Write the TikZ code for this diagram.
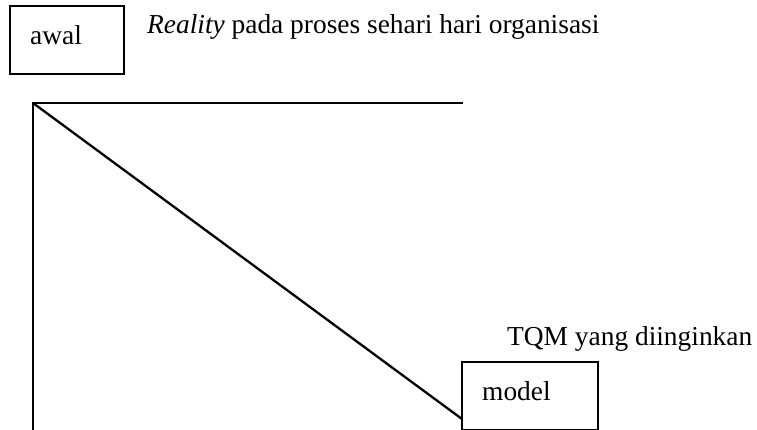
\documentclass[tikz,border=0pt]{standalone}
\usepackage{fontspec}
\setmainfont{Liberation Serif}
\begin{document}
\begin{tikzpicture}[x=1pt,y=-1pt,
  boxframe/.style={draw, line width=1.8pt, inner sep=0pt},
  txt/.style={inner sep=0pt, font=\fontsize{27.4}{32}\selectfont},
  axis/.style={line width=2.3pt, line cap=rect}]
\useasboundingbox (0,0) rectangle (757,429);
% boxes
\node[boxframe, minimum width=114pt, minimum height=68pt] (awalbox) at (67,40) {};
\node[boxframe, minimum width=136pt, minimum height=67.5pt] (modelbox) at (530,395.75) {};
% texts
\node[txt, anchor=base west] (awal) at (30,44) {awal};
\node[txt, anchor=base west] (reality) at (147,33) {\textit{Reality} pada proses sehari hari organisasi};
\node[txt, anchor=base west] (tqm) at (507,345) {TQM yang diinginkan};
\node[txt, anchor=base west] (model) at (482,400) {model};
% lines
\coordinate (corner) at (33,103);
\coordinate (hend) at (462,103);
\coordinate (vend) at (33,440);
\coordinate (dend) at (462,419);
\draw[axis] (hend) -- (corner) -- (vend);
\draw[line width=2.3pt] (corner) -- (dend);
\end{tikzpicture}
\end{document}
